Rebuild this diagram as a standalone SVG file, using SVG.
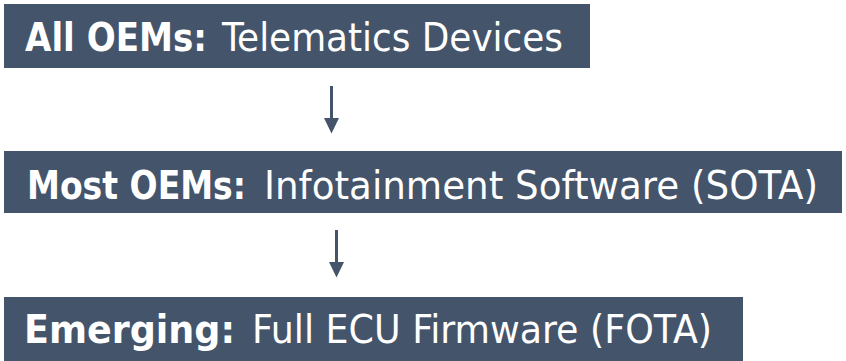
<svg xmlns="http://www.w3.org/2000/svg" width="846" height="361" viewBox="0 0 846 361">
  <style>
    .box { fill: #44546A; }
    .lbl { font-family: "DejaVu Sans Condensed", "DejaVu Sans", sans-serif; font-size: 39px; fill: #FFFFFF; }
    .b { font-weight: bold; }
    .conn line { stroke: #44546A; stroke-width: 3; }
  </style>
  <defs>
    <marker id="head" markerWidth="5.2" markerHeight="5" refX="0" refY="2.5" orient="auto" markerUnits="strokeWidth">
      <path d="M0,0 L5.2,2.5 L0,5 Z" fill="#44546A"/>
    </marker>
  </defs>

  <rect width="846" height="361" fill="#FFFFFF"/>

  <g id="node-telematics">
    <rect class="box" x="4" y="4" width="586" height="64"/>
    <text class="lbl b" x="25" y="51" textLength="182" lengthAdjust="spacingAndGlyphs">All OEMs:</text>
    <text class="lbl" x="222" y="51" textLength="341" lengthAdjust="spacingAndGlyphs">Telematics Devices</text>
  </g>

  <g id="node-sota">
    <rect class="box" x="4" y="151" width="838" height="62"/>
    <text class="lbl b" x="27" y="199" textLength="219" lengthAdjust="spacingAndGlyphs">Most OEMs:</text>
    <text class="lbl" x="264" y="199" textLength="554" lengthAdjust="spacingAndGlyphs">Infotainment Software (SOTA)</text>
  </g>

  <g id="node-fota">
    <rect class="box" x="4" y="297" width="739" height="64"/>
    <text class="lbl b" x="24" y="343" textLength="211" lengthAdjust="spacingAndGlyphs">Emerging:</text>
    <text class="lbl" x="252" y="343" textLength="460" lengthAdjust="spacingAndGlyphs">Full ECU Firmware (FOTA)</text>
  </g>

  <g id="connectors" class="conn">
    <line x1="331.5" y1="86" x2="331.5" y2="118" marker-end="url(#head)"/>
    <line x1="336.5" y1="230" x2="336.5" y2="262" marker-end="url(#head)"/>
  </g>
</svg>
